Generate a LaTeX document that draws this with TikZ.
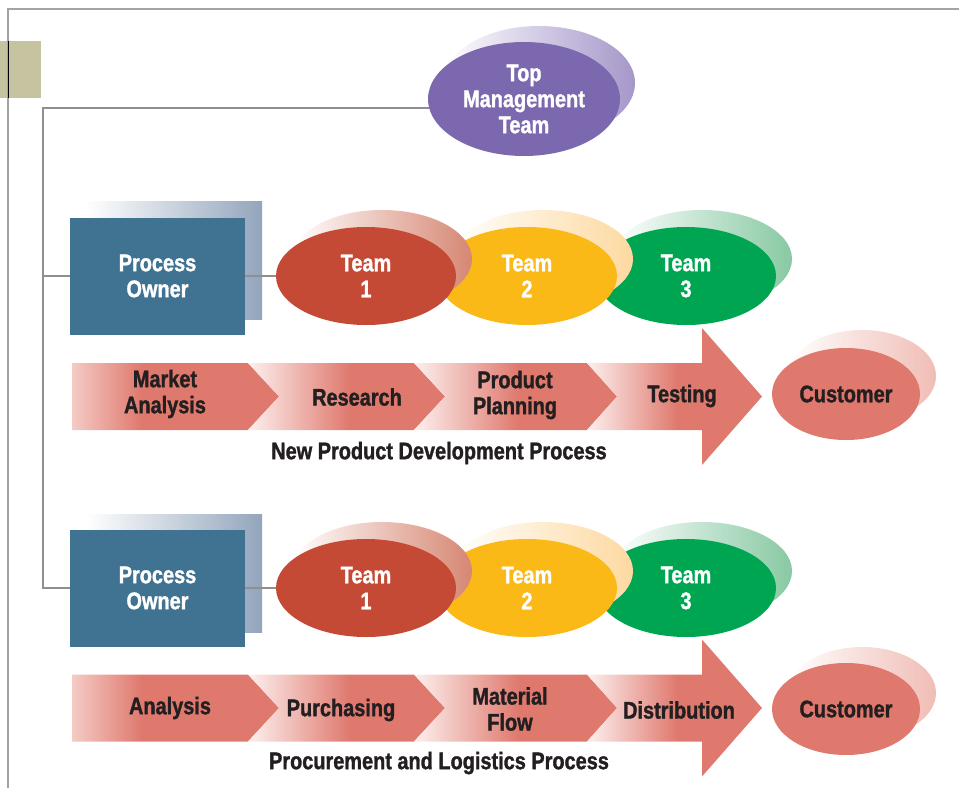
\documentclass[tikz,border=0pt]{standalone}
\usepackage{fontspec}
\newfontfamily\condf{Liberation Sans}[FakeStretch=0.83, BoldFeatures={FakeBold=1.3}]
\usetikzlibrary{shapes.geometric}
\definecolor{purp}{HTML}{7B68AE}
\definecolor{purpS}{HTML}{A597C9}
\definecolor{tealb}{HTML}{3F7391}
\definecolor{tealS}{HTML}{93A5BC}
\definecolor{redt}{HTML}{C54A36}
\definecolor{redS}{HTML}{D68773}
\definecolor{yelt}{HTML}{FBB917}
\definecolor{yelS}{HTML}{FDD9A0}
\definecolor{grnt}{HTML}{00A551}
\definecolor{grnS}{HTML}{88C9A3}
\definecolor{salm}{HTML}{DF786D}
\definecolor{salmL}{HTML}{F4CBC5}
\definecolor{salmW}{HTML}{FDF0EE}
\definecolor{custS}{HTML}{F0BDB5}
\definecolor{darkt}{HTML}{231F20}
\definecolor{khaki}{HTML}{C6C4A0}
\definecolor{conngray}{HTML}{8F8F8F}
\definecolor{framegray}{HTML}{A3A3A3}
\pgfdeclarehorizontalshading{chevfirst}{100bp}{color(0bp)=(salmL); color(25bp)=(salmL); color(42bp)=(salm); color(100bp)=(salm)}
\pgfdeclarehorizontalshading{chevrest}{100bp}{color(0bp)=(salmW); color(25bp)=(salmW); color(51bp)=(salm); color(100bp)=(salm)}
\pgfdeclarelayer{bg}
\pgfsetlayers{bg,main}
\newcommand\lblfont{\condf\bfseries\fontsize{12}{13}\selectfont}
\newcommand\chevpaths{%
  \shade[shading=chevfirst] (72,363) -- (248,363) -- (279,396.5) -- (248,430) -- (72,430) -- cycle;
  \shade[shading=chevrest] (248,363) -- (414,363) -- (445,396.5) -- (414,430) -- (248,430) -- (279,396.5) -- cycle;
  \shade[shading=chevrest] (414,363) -- (587,363) -- (617,396.5) -- (587,430) -- (414,430) -- (445,396.5) -- cycle;
  \shade[shading=chevrest] (587,363) -- (702,363) -- (702,328) -- (762,396.5) -- (702,465) -- (702,430) -- (587,430) -- (617,396.5) -- cycle;
}
\begin{document}
\begin{tikzpicture}[x=0.5pt,y=-0.5pt,
  conn/.style={draw=conngray, line width=1pt},
  framel/.style={draw=framegray, line width=0.8pt},
  shad/.style={inner sep=0pt, draw=none, left color=white},
  team/.style={ellipse, inner sep=0pt, minimum width=90pt, minimum height=49pt, text=white, align=center, font=\lblfont},
  teamshad/.style={shad, ellipse, minimum width=90pt, minimum height=49pt},
  pobox/.style={rectangle, inner sep=0pt, minimum width=87.5pt, minimum height=58.5pt, fill=tealb, text=white, align=center, font=\lblfont},
  poshad/.style={shad, rectangle, minimum width=88pt, minimum height=59pt, right color=tealS},
  cust/.style={ellipse, inner sep=0pt, minimum width=74pt, minimum height=46pt, fill=salm, text=darkt, font=\lblfont},
  custshad/.style={shad, ellipse, minimum width=74pt, minimum height=46pt, right color=custS},
  lbl/.style={text=darkt, align=center, font=\lblfont, inner sep=0pt}]
\useasboundingbox (0,0) rectangle (959,788);
\fill[khaki] (0,41) rectangle (41,98);
\draw[framel] (8,788) -- (8,9) -- (959,9);
\draw[black, line width=0.5pt] (8,41) -- (8,98);
\coordinate (tl) at (43,108);

% top management
\node[shad, ellipse, minimum width=96pt, minimum height=57pt, right color=purpS] (tms) at (539,83) {};
\node[ellipse, inner sep=0pt, minimum width=96pt, minimum height=57pt, fill=purp, text=white, align=center, font=\lblfont] (tm) at (524,99) {Top\\Management\\Team};

% row 1
\node[poshad] (po1s) at (174,260) {};
\node[pobox] (po1) at (157.5,276) {Process\\Owner};
\node[teamshad, right color=grnS] (t3as) at (702,259) {};
\node[team, fill=grnt] (t3a) at (686,276) {Team\\3};
\node[teamshad, right color=yelS] (t2as) at (543,259) {};
\node[team, fill=yelt] (t2a) at (527,276) {Team\\2};
\node[teamshad, right color=redS] (t1as) at (382,259) {};
\node[team, fill=redt] (t1a) at (366,276) {Team\\1};
\draw[conn] (po1.east) -- (po1.east -| t1a.west);

\chevpaths
\node[lbl] (ma) at (165,394) {Market\\Analysis};
\node[lbl] (rs) at (357,397) {Research};
\node[lbl] (pp) at (515,395) {Product\\Planning};
\node[lbl] (ts) at (682,396) {Testing};
\node[custshad] (c1s) at (862,376) {};
\node[cust] (c1) at (846,394) {Customer};
\node[lbl] (cap1) at (439,453) {New Product Development Process};

% row 2
\node[poshad] (po2s) at (174,573) {};
\node[pobox] (po2) at (157.5,588) {Process\\Owner};
\node[teamshad, right color=grnS] (t3bs) at (702,571) {};
\node[team, fill=grnt] (t3b) at (686,588) {Team\\3};
\node[teamshad, right color=yelS] (t2bs) at (543,571) {};
\node[team, fill=yelt] (t2b) at (527,588) {Team\\2};
\node[teamshad, right color=redS] (t1bs) at (382,571) {};
\node[team, fill=redt] (t1b) at (366,588) {Team\\1};
\draw[conn] (po2.east) -- (po2.east -| t1b.west);

\begin{scope}[shift={(0,311.5)}]
\chevpaths
\end{scope}
\node[lbl] (an) at (170,708) {Analysis};
\node[lbl] (pu) at (341,710) {Purchasing};
\node[lbl] (mf) at (510,709) {Material\\Flow};
\node[lbl] (di) at (679,710) {Distribution};
\node[custshad] (c2s) at (862,693) {};
\node[cust] (c2) at (846,709) {Customer};
\node[lbl] (cap2) at (439,763) {Procurement and Logistics Process};

% spine connectors
\begin{pgfonlayer}{bg}
\draw[conn] (tm.center |- tl) -- (tl) -- (tl |- po2.west) -- (po2.west);
\draw[conn] (tl |- po1.west) -- (po1.west);
\end{pgfonlayer}
\end{tikzpicture}
\end{document}
